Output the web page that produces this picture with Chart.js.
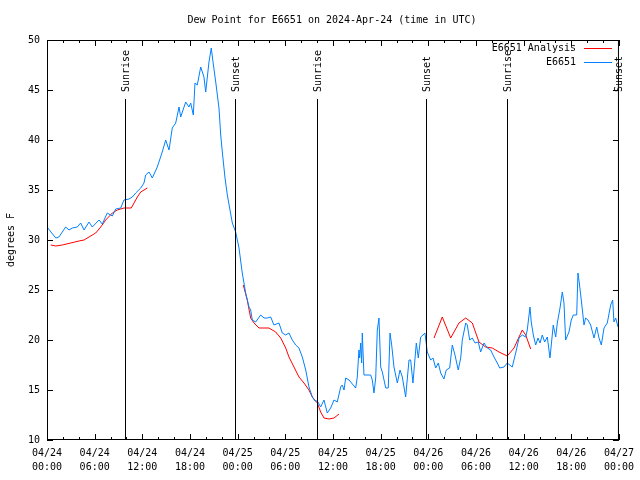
<!DOCTYPE html>
<html>
<head>
<meta charset="utf-8">
<script src="https://cdn.jsdelivr.net/npm/chart.js@4.4.1/dist/chart.umd.min.js"></script>
<style>
  body { margin: 0; background: #fff; }
  #dew { display: block; }
</style>
</head>
<body>
<canvas id="dew" width="640" height="480"></canvas>
<script>
// hours since 04/24 00:00 UTC
const obsHours = [0, 1.1, 1.5, 2.35, 2.77, 3.18, 3.81, 4.24, 4.66, 5.29, 5.7, 6.55, 6.96, 7.59, 8.22, 8.65, 9.28, 9.69,
  10.32, 10.74, 11.17, 11.8, 12.21, 12.42, 12.84, 13.26, 13.88, 14.51, 14.94, 15.36, 15.77, 16.2, 16.62, 16.83, 17.46,
  17.87, 18.09, 18.42, 18.63, 18.92, 19.35, 19.76, 19.98, 20.39, 20.68, 20.9, 21.24, 21.65, 21.87, 22.07, 22.41, 22.7,
  23.33, 23.75, 24.17, 24.58, 25.01, 25.43, 25.64, 25.84, 26.27, 26.9, 27.32, 27.73, 28.16, 28.57, 29.2, 29.62, 30.05,
  30.46, 30.88, 31.31, 31.72, 32.14, 32.57, 32.98, 33.4, 33.74, 34.03, 34.45, 34.87, 35.28, 35.71, 36.13, 36.54, 36.97,
  37.17, 37.39, 37.6, 38.02, 38.86, 39.06, 39.27, 39.36, 39.49, 39.61, 39.69, 39.9, 40.75, 40.95, 41.16, 41.38, 41.58,
  41.79, 42.01, 42.21, 42.64, 42.96, 43.18, 43.39, 43.68, 44.1, 44.44, 44.73, 45.15, 45.57, 45.78, 46.07, 46.49, 46.74,
  47.04, 47.33, 47.58, 47.87, 48.3, 48.59, 48.93, 49.26, 49.56, 49.97, 50.26, 50.69, 51.02, 51.36, 51.77, 52.08, 52.28,
  52.71, 52.91, 53.21, 53.54, 53.88, 54.29, 54.59, 55.01, 55.43, 55.85, 56.27, 56.68, 56.99, 57.53, 57.94, 58.57, 59.0,
  59.42, 59.83, 60.26, 60.46, 60.8, 60.96, 61.22, 61.52, 61.81, 62.06, 62.35, 62.65, 62.98, 63.32, 63.73, 64.04, 64.24,
  64.58, 64.87, 65.08, 65.29, 65.71, 66.0, 66.25, 66.68, 66.84, 67.01, 67.26, 67.6, 67.81, 68.1, 68.44, 68.86, 69.2,
  69.49, 69.78, 70.12, 70.53, 70.96, 71.21, 71.37, 71.59, 71.88];
const obsDew = [31.3, 30.2, 30.3, 31.3, 31.0, 31.2, 31.3, 31.7, 31.0, 31.8, 31.3, 32.0, 31.6, 32.7, 32.4, 33.1, 33.2, 34.0,
  34.1, 34.3, 34.7, 35.2, 35.7, 36.5, 36.8, 36.2, 37.3, 38.8, 40.0, 39.0, 41.2, 41.7, 43.3, 42.3, 43.8,
  43.3, 43.7, 42.5, 45.7, 45.5, 47.3, 46.3, 44.8, 47.8, 49.2, 47.8, 45.8, 43.2, 40.5, 38.8, 36.2, 34.5,
  31.7, 30.8, 29.2, 26.7, 24.7, 23.3, 23.0, 22.0, 21.8, 22.5, 22.2, 22.2, 22.3, 21.5, 21.7, 20.7, 20.5,
  20.7, 20.0, 19.5, 19.2, 18.3, 17.0, 15.3, 14.3, 13.9, 13.9, 13.3, 14.0, 12.7, 13.2, 14.0, 13.8, 15.3,
  15.5, 15.0, 16.2, 16.0, 15.2, 16.3, 19.0, 18.2, 19.7, 17.7, 20.7, 16.5, 16.5, 16.0, 14.7, 16.2, 21.0,
  22.2, 17.3, 16.8, 15.2, 15.2, 20.7, 19.5, 17.3, 15.7, 17.0, 16.3, 14.3, 18.0, 18.0, 15.7, 19.7, 18.2,
  20.3, 20.5, 20.7, 18.8, 18.0, 18.2, 17.2, 17.7, 16.7, 16.1, 17.0, 17.2, 19.5, 18.5, 17.0, 18.2, 20.0,
  21.7, 21.5, 20.0, 20.2, 19.7, 19.8, 18.8, 19.7, 19.2, 19.0, 18.3, 17.7, 17.2, 17.3, 17.7, 17.3, 18.7,
  20.2, 20.5, 20.3, 21.0, 23.3, 21.8, 20.5, 19.5, 20.2, 19.7, 20.5, 19.8, 20.3, 18.2, 21.5, 20.3, 21.7,
  23.2, 24.8, 23.7, 20.0, 20.8, 22.0, 22.5, 22.5, 26.7, 25.7, 24.0, 21.5, 22.2, 22.0, 21.5, 20.2, 21.3,
  20.2, 19.5, 21.2, 21.7, 23.5, 24.0, 21.8, 22.2, 21.3];

// analysis series, null = gap
const anaHours = [0.47, 1.1, 1.93, 2.98, 4.03, 4.66, 5.29, 6.13, 6.76, 7.39, 8.22, 8.85, 9.69, 10.61, 11.37, 11.8, 12.63,
  18.0,
  24.71, 25.21, 25.64, 26.06, 26.69, 27.32, 27.94, 28.79, 29.42, 30.05, 30.46, 31.09, 31.72, 32.35, 32.98, 33.4, 34.03,
  34.45, 34.87, 35.5, 36.13, 36.76,
  42.0,
  48.72, 49.76, 50.82, 51.86, 52.71, 53.54, 54.38, 55.22, 56.05, 56.9, 57.94, 58.79, 59.83, 60.26, 60.89];
const anaDew = [29.5, 29.4, 29.5, 29.7, 29.9, 30.0, 30.3, 30.7, 31.3, 32.0, 32.7, 33.0, 33.2, 33.2, 34.3, 34.8, 35.2,
  null,
  25.5, 24.0, 22.2, 21.7, 21.2, 21.2, 21.2, 20.8, 20.2, 19.2, 18.3, 17.3, 16.3, 15.7, 15.0, 14.3, 13.7,
  12.8, 12.2, 12.1, 12.2, 12.6,
  null,
  20.2, 22.3, 20.2, 21.7, 22.2, 21.7, 19.8, 19.3, 19.2, 18.8, 18.4, 19.2, 21.0, 20.5, 19.1];

const sunHours = [9.84, 23.62, 33.93, 47.75, 57.93, 71.85];
const sunLabels = ['Sunrise', 'Sunset', 'Sunrise', 'Sunset', 'Sunrise', 'Sunset'];
const dayLabels = ['04/24', '04/24', '04/24', '04/24', '04/25', '04/25', '04/25', '04/25', '04/26', '04/26', '04/26', '04/26', '04/27'];
const timeLabels = ['00:00', '06:00', '12:00', '18:00'];

const FONT = '10px "DejaVu Sans Mono"';
const BLUE = 'rgb(0,128,255)';
const RED = 'rgb(255,0,0)';

const toPoints = (xs, ys) => xs.map((x, i) => ({ x: x, y: ys[i] }));

const gnuplotBits = {
  id: 'gnuplotBits',
  afterDatasetsDraw(chart) {
    const c = chart.ctx, a = chart.chartArea;
    const xs = chart.scales.x, ys = chart.scales.y;
    c.save();
    c.strokeStyle = '#000';
    c.lineWidth = 1;
    // frame
    c.strokeRect(a.left + 0.5, a.top + 0.5, a.right - a.left - 1, a.bottom - a.top - 1);
    // inward ticks
    c.beginPath();
    for (let h = 0; h <= 72; h += 2) {
      const px = Math.round(xs.getPixelForValue(h)) + 0.5;
      const len = h % 6 === 0 ? 6 : 3;
      c.moveTo(px, a.bottom); c.lineTo(px, a.bottom - len);
      c.moveTo(px, a.top); c.lineTo(px, a.top + len);
    }
    for (let v = 10; v <= 50; v += 5) {
      const py = Math.round(ys.getPixelForValue(v)) + 0.5;
      c.moveTo(a.left, py); c.lineTo(a.left + 6, py);
      c.moveTo(a.right, py); c.lineTo(a.right - 6, py);
    }
    c.stroke();
    // sunrise / sunset markers
    c.font = FONT;
    c.fillStyle = '#000';
    sunHours.forEach((h, i) => {
      const px = Math.round(xs.getPixelForValue(h)) + 0.5;
      c.beginPath();
      c.moveTo(px, 99); c.lineTo(px, a.bottom);
      c.stroke();
      c.save();
      c.translate(px + 1, 92);
      c.rotate(-Math.PI / 2);
      c.textAlign = 'left';
      c.textBaseline = 'middle';
      c.fillText(sunLabels[i], 0, 0);
      c.restore();
    });
    // title
    c.textAlign = 'center';
    c.textBaseline = 'middle';
    c.fillText('Dew Point for E6651 on 2024-Apr-24 (time in UTC)', 332, 20);
    // key
    c.textAlign = 'right';
    c.fillText('E6651 Analysis', 576, 48);
    c.fillText('E6651', 576, 62);
    c.strokeStyle = RED;
    c.beginPath(); c.moveTo(584, 48.5); c.lineTo(612, 48.5); c.stroke();
    c.strokeStyle = BLUE;
    c.beginPath(); c.moveTo(584, 62.5); c.lineTo(612, 62.5); c.stroke();
    c.restore();
  }
};

new Chart(document.getElementById('dew'), {
  type: 'line',
  data: {
    datasets: [
      { label: 'E6651', data: toPoints(obsHours, obsDew), borderColor: BLUE, borderWidth: 1, pointRadius: 0, tension: 0, spanGaps: false },
      { label: 'E6651 Analysis', data: toPoints(anaHours, anaDew), borderColor: RED, borderWidth: 1, pointRadius: 0, tension: 0, spanGaps: false }
    ]
  },
  options: {
    responsive: false,
    animation: false,
    devicePixelRatio: 1,
    layout: { padding: { top: 40, right: 20, left: 0, bottom: 0 } },
    plugins: { legend: { display: false }, tooltip: { enabled: false } },
    scales: {
      x: {
        type: 'linear', min: 0, max: 72,
        grid: { display: false, drawTicks: false },
        border: { display: false },
        afterFit: s => { s.height = 40; },
        afterBuildTicks: s => { s.ticks = dayLabels.map((d, i) => ({ value: i * 6 })); },
        ticks: {
          autoSkip: false, maxRotation: 0, padding: 6, color: '#000',
          font: { family: 'DejaVu Sans Mono', size: 10, lineHeight: 1.45 },
          callback: (v, i) => [dayLabels[i], timeLabels[i % 4]]
        }
      },
      y: {
        min: 10, max: 50,
        grid: { display: false, drawTicks: false },
        border: { display: false },
        afterFit: s => { s.width = 47; },
        ticks: { stepSize: 5, padding: 7, color: '#000', font: { family: 'DejaVu Sans Mono', size: 10 } },
        title: { display: true, text: 'degrees F', color: '#000', padding: { top: 5, bottom: 0 },
          font: { family: 'DejaVu Sans Mono', size: 10 } }
      }
    }
  },
  plugins: [gnuplotBits]
});
</script>
</body>
</html>
